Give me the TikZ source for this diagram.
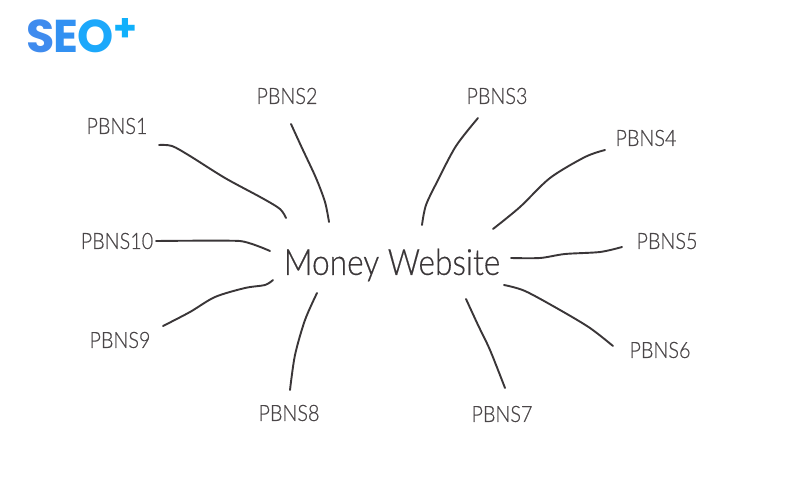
\documentclass[tikz,border=0pt]{standalone}
\usepackage{fontspec}
\newfontfamily\handfont{Lato}[UprightFont=* Light,FakeStretch=0.88,FakeBold=0.4]
\newfontfamily\logofont{Poppins}[UprightFont=* Bold]
\definecolor{ink}{HTML}{3A3638}
\definecolor{lab}{HTML}{4A4648}
\definecolor{logoS}{RGB}{63,139,238}
\definecolor{logoE}{RGB}{50,145,242}
\definecolor{logoO}{RGB}{28,168,251}
\definecolor{logoP}{RGB}{16,176,251}
\tikzset{
  pbn/.style={font=\handfont\fontsize{22.5}{22.5}\selectfont,text=lab,inner sep=0pt,anchor=center},
  wire/.style={draw=ink,line width=1.9pt,line cap=round,line join=round},
  logo/.style={font=\logofont\fontsize{46}{46}\selectfont,inner sep=0pt,anchor=center}
}
\begin{document}
\begin{tikzpicture}[x=1pt,y=-1pt]
\useasboundingbox (0,0) rectangle (800,500);
\fill[white] (0,0) rectangle (800,500);
% logo
\node[logo,text=logoS] (s) at (41,36) {S};
\node[logo,text=logoE] (e) at (66,36) {E};
\node[logo,text=logoO] (o) at (96,36) {O};
\node[logo,text=logoP,font=\logofont\fontsize{38}{38}\selectfont] (plus) at (125,30) {+};
% centre and labels
\node[pbn,font=\handfont\fontsize{36}{36}\selectfont,text=ink] (money) at (392,265) {Money Website};
\node[pbn] (p1) at (117,126) {PBNS1};
\node[pbn] (p2) at (287,96) {PBNS2};
\node[pbn] (p3) at (497,96) {PBNS3};
\node[pbn] (p4) at (646,138) {PBNS4};
\node[pbn] (p5) at (667,241) {PBNS5};
\node[pbn] (p6) at (660,350) {PBNS6};
\node[pbn] (p7) at (502,414) {PBNS7};
\node[pbn] (p8) at (289,413) {PBNS8};
\node[pbn] (p9) at (120,340) {PBNS9};
\node[pbn] (p10) at (117,241) {PBNS10};
% connector ends
\coordinate (a1) at (159,145); \coordinate (b1) at (286,218);
\coordinate (a2) at (291,124); \coordinate (b2) at (329,222);
\coordinate (a3) at (478,118); \coordinate (b3) at (422,225);
\coordinate (a4) at (605,150); \coordinate (b4) at (493,229);
\coordinate (a5) at (622,247); \coordinate (b5) at (511,258);
\coordinate (a6) at (613,346); \coordinate (b6) at (504,285);
\coordinate (a7) at (505,388); \coordinate (b7) at (466,299);
\coordinate (a8) at (290,390); \coordinate (b8) at (317,293);
\coordinate (a9) at (163,326); \coordinate (b9) at (273,280);
\coordinate (a10) at (156,241); \coordinate (b10) at (270,251);
\draw[wire] plot[smooth,tension=0.5] coordinates {(a1) (172,146) (190,156) (225,178) (262,198) (280,209) (b1)};
\draw[wire] plot[smooth,tension=0.5] coordinates {(a2) (302,148) (316,178) (325,202) (b2)};
\draw[wire] plot[smooth,tension=0.5] coordinates {(a3) (456,146) (438,180) (426,205) (b3)};
\draw[wire] plot[smooth,tension=0.5] coordinates {(a4) (585,157) (550,178) (520,207) (b4)};
\draw[wire] plot[smooth,tension=0.5] coordinates {(a5) (600,252) (565,254) (540,258) (b5)};
\draw[wire] plot[smooth,tension=0.5] coordinates {(a6) (590,328) (560,310) (525,291) (b6)};
\draw[wire] plot[smooth,tension=0.5] coordinates {(a7) (490,350) (478,325) (b7)};
\draw[wire] plot[smooth,tension=0.5] coordinates {(a8) (295,355) (305,320) (b8)};
\draw[wire] plot[smooth,tension=0.5] coordinates {(a9) (190,312) (215,297) (245,288) (265,285) (b9)};
\draw[wire] plot[smooth,tension=0.3] coordinates {(a10) (240,241) (b10)};
\end{tikzpicture}
\end{document}
